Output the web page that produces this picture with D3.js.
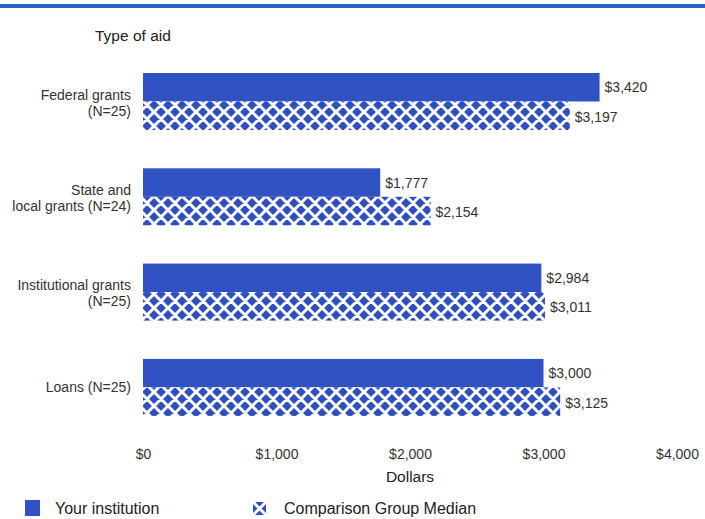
<!DOCTYPE html>
<html><head><meta charset="utf-8">
<script src="https://cdn.jsdelivr.net/npm/d3@7"></script>
<style>body{margin:0;background:#fff;}svg{display:block;font-family:"Liberation Sans",Arial,sans-serif;}</style>
</head><body>
<script>
const categories = [["Federal grants","(N=25)"],["State and","local grants (N=24)"],["Institutional grants","(N=25)"],["Loans (N=25)"]];
const yourInstitution = [3420, 1777, 2984, 3000];
const comparisonMedian = [3197, 2154, 3011, 3125];
const tickValues = [0, 1000, 2000, 3000, 4000];
const seriesNames = ["Your institution", "Comparison Group Median"];

const W = 705, H = 519;
const svg = d3.select("body").append("svg").attr("width", W).attr("height", H);
const defs = svg.append("defs");
const P = 14;
const pat = defs.append("pattern").attr("id","hatch").attr("patternUnits","userSpaceOnUse")
  .attr("width",P).attr("height",P);
pat.append("rect").attr("width",P).attr("height",P).attr("fill","#2f4fc0");
pat.append("path").attr("d",`M-3,3 L3,-3 M0,${P} L${P},0 M${P-3},${P+3} L${P+3},${P-3} M-3,${P-3} L3,${P+3} M0,0 L${P},${P} M${P-3},-3 L${P+3},3`)
  .attr("stroke","#fff").attr("stroke-width",3);

svg.append("rect").attr("x",0).attr("y",4).attr("width",W).attr("height",4).attr("fill","#2d5fca");

const x = d3.scaleLinear().domain([0,4000]).range([143,677]);
const groupStep = 95.3;
const barH = 28.5;
const txt = "#333";

svg.append("text").attr("x",95).attr("y",41).attr("font-size",15.5).attr("fill","#222").text("Type of aid");

const fmt = d => "$" + d3.format(",")(d);
categories.forEach((c,i)=>{
  const y0 = 73 + i*groupStep;
  svg.append("rect").attr("x",x(0)).attr("y",y0).attr("width",x(yourInstitution[i])-x(0)).attr("height",barH).attr("fill","#3152c2");
  svg.append("rect").attr("x",x(0)).attr("y",y0+barH).attr("width",x(comparisonMedian[i])-x(0)).attr("height",barH).attr("fill","url(#hatch)");
  svg.append("text").attr("x",x(yourInstitution[i])+5).attr("y",y0+barH/2+5).attr("font-size",14).attr("fill",txt).text(fmt(yourInstitution[i]));
  svg.append("text").attr("x",x(comparisonMedian[i])+5).attr("y",y0+barH+barH/2+6).attr("font-size",14).attr("fill",txt).text(fmt(comparisonMedian[i]));
  const t = svg.append("text").attr("text-anchor","end").attr("font-size",14).attr("fill",txt);
  const cy = y0 + barH;
  if (c.length === 2) {
    t.append("tspan").attr("x",131).attr("y",cy-2).text(c[0]);
    t.append("tspan").attr("x",131).attr("y",cy+14).text(c[1]);
  } else {
    t.append("tspan").attr("x",131).attr("y",cy+5).text(c[0]);
  }
});

const axis = d3.axisBottom(x).tickValues(tickValues).tickFormat(fmt).tickSize(0);
const ag = svg.append("g").attr("transform","translate(0,446)").call(axis);
ag.select(".domain").remove();
ag.selectAll("text").attr("font-size",14).attr("fill",txt).attr("font-family","Liberation Sans, Arial, sans-serif");

svg.append("text").attr("x",410).attr("y",482).attr("text-anchor","middle").attr("font-size",15.5).attr("fill","#222").text("Dollars");

// legend
svg.append("rect").attr("x",25).attr("y",500).attr("width",15).attr("height",16).attr("fill","#3152c2");
svg.append("text").attr("x",55).attr("y",514).attr("font-size",16).attr("fill","#222").text(seriesNames[0]);
const lg = svg.append("g").attr("transform","translate(253,502)");
lg.append("rect").attr("width",13).attr("height",13).attr("fill","#2f4fc0");
lg.append("path").attr("d","M0,0 L13,13 M13,0 L0,13").attr("stroke","#fff").attr("stroke-width",3);
svg.append("text").attr("x",284).attr("y",514).attr("font-size",16).attr("fill","#222").text(seriesNames[1]);
</script>
</body></html>
